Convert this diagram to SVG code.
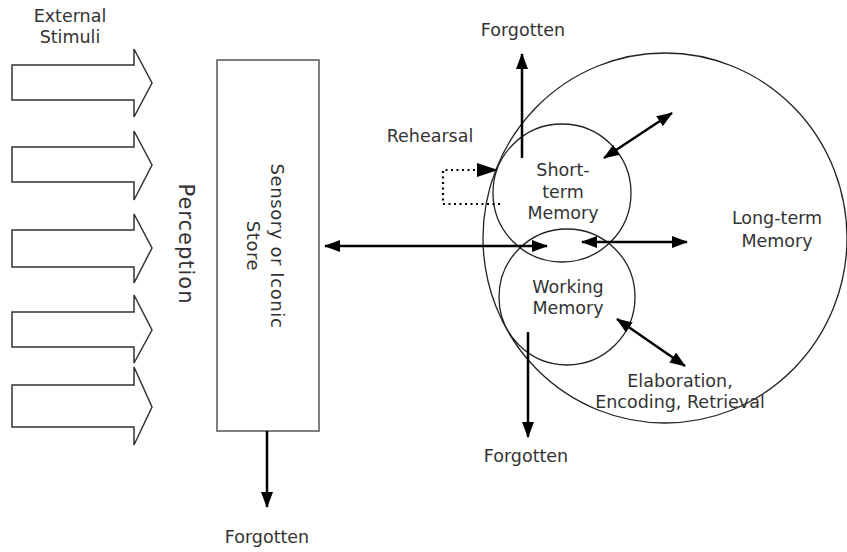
<svg xmlns="http://www.w3.org/2000/svg" width="847" height="552" viewBox="0 0 847 552">
<defs>
<style>
.t{font-family:"DejaVu Sans","Liberation Sans",sans-serif;font-size:17.5px;fill:#333;text-anchor:middle}
.blk{fill:#fff;stroke:#333;stroke-width:1.5}
.circ{fill:none;stroke:#222;stroke-width:1.3}
.ln{stroke:#000;stroke-width:2.5;fill:none}
</style>
<marker id="ah" viewBox="0 0 16 12" refX="15" refY="6" markerWidth="16" markerHeight="12" markerUnits="userSpaceOnUse" orient="auto-start-reverse">
<path d="M0,0 L16,6 L0,12 z" fill="#000"/>
</marker>
</defs>
<rect width="847" height="552" fill="#fff"/>

<g id="stimuli">
<text class="t" x="70" y="22">External</text>
<text class="t" x="70" y="43">Stimuli</text>
<path class="blk" d="M12,65 H134 V49 L152,83 L134,117 V100 H12 Z"/>
<path class="blk" d="M12,147 H134 V131 L152,165 L134,200 V182 H12 Z"/>
<path class="blk" d="M12,230 H134 V214 L152,248 L134,283 V267 H12 Z"/>
<path class="blk" d="M12,312 H134 V295 L152,330 L134,363 V347 H12 Z"/>
<path class="blk" d="M12,385 H134 V367 L152,407 L134,445 V427 H12 Z"/>
</g>

<g id="perception">
<text class="t" transform="translate(179,244) rotate(90)" style="font-size:21px;letter-spacing:1px">Perception</text>
</g>

<g id="sensory">
<rect x="217" y="60" width="102" height="371" fill="#fff" stroke="#555" stroke-width="1.5"/>
<g transform="translate(271,246) rotate(90)">
<text class="t" x="0" y="0" style="font-size:18px;letter-spacing:0.6px">Sensory or Iconic</text>
<text class="t" x="0" y="24" style="font-size:18px;letter-spacing:0.6px">Store</text>
</g>
</g>

<g id="long-term">
<ellipse class="circ" cx="665" cy="238" rx="182" ry="185"/>
<text class="t" x="777" y="224">Long-term</text>
<text class="t" x="777" y="247">Memory</text>
</g>

<g id="short-term">
<circle class="circ" cx="562" cy="193" r="69"/>
<text class="t" x="563" y="176">Short-</text>
<text class="t" x="563" y="198">term</text>
<text class="t" x="563" y="219">Memory</text>
</g>

<g id="working">
<circle class="circ" cx="567" cy="297" r="68"/>
<text class="t" x="568" y="293">Working</text>
<text class="t" x="568" y="314">Memory</text>
</g>

<g id="labels">
<text class="t" x="430" y="142">Rehearsal</text>
<text class="t" x="523" y="36">Forgotten</text>
<text class="t" x="526" y="462">Forgotten</text>
<text class="t" x="267" y="543">Forgotten</text>
<text class="t" x="680" y="387">Elaboration,</text>
<text class="t" x="680" y="408">Encoding, Retrieval</text>
</g>

<g id="connectors">
<line class="ln" x1="267" y1="431" x2="267" y2="507" marker-end="url(#ah)"/>
<line class="ln" x1="325" y1="246" x2="547" y2="246" marker-start="url(#ah)" marker-end="url(#ah)"/>
<line class="ln" x1="582" y1="242" x2="687" y2="242" marker-start="url(#ah)" marker-end="url(#ah)"/>
<line class="ln" x1="604" y1="158" x2="672" y2="113" marker-start="url(#ah)" marker-end="url(#ah)"/>
<line class="ln" x1="617" y1="319" x2="685" y2="366" marker-start="url(#ah)" marker-end="url(#ah)"/>
<line class="ln" x1="522" y1="158" x2="522" y2="54" marker-end="url(#ah)"/>
<line class="ln" x1="528" y1="332" x2="528" y2="437" marker-end="url(#ah)"/>
<path d="M500,204 H443 V170 H478" fill="none" stroke="#000" stroke-width="2.2" stroke-dasharray="2 3.5"/>
<polygon points="477,163 498,170 477,177" fill="#000"/>
</g>
</svg>
